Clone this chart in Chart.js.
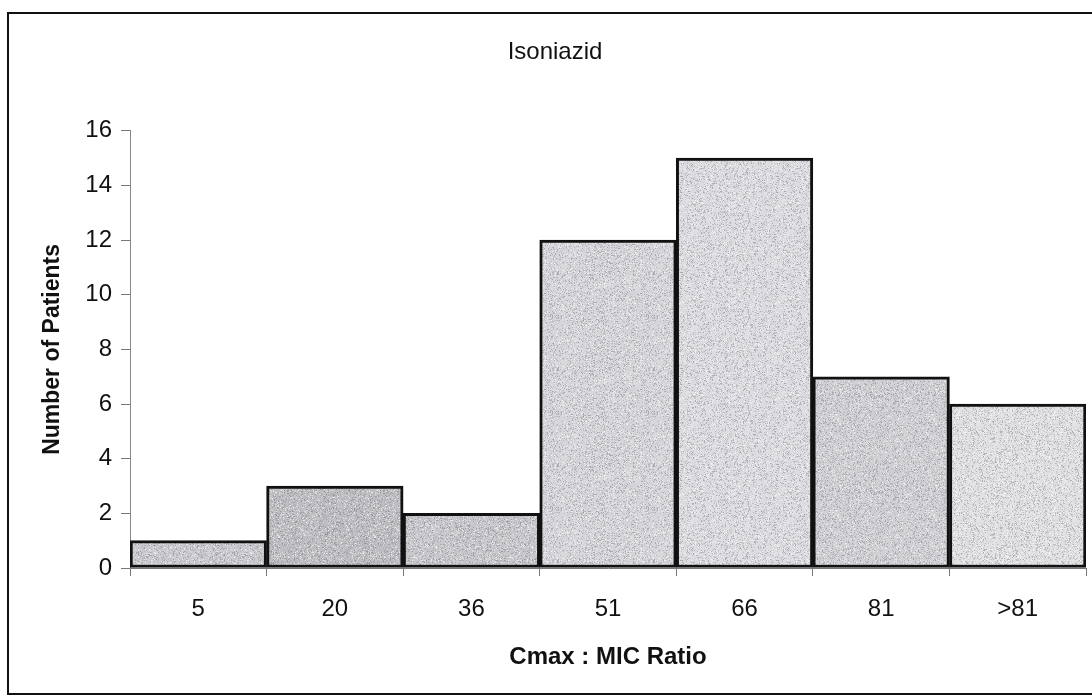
<!DOCTYPE html>
<html>
<head>
<meta charset="utf-8">
<script src="https://cdn.jsdelivr.net/npm/chart.js@4"></script>
<style>
  html, body { margin: 0; padding: 0; background: #fff; }
  #wrap { position: relative; width: 1092px; height: 697px; overflow: hidden; }
  #frame {
    position: absolute; left: 7px; top: 12px; width: 1100px; height: 683px;
    border: 2px solid #111; box-sizing: border-box; pointer-events: none;
  }
  canvas { position: absolute; left: 0; top: 0; }
</style>
</head>
<body>
<div id="wrap">
  <canvas id="c" width="1092" height="697"></canvas>
  <div id="frame"></div>
</div>
<script>
// Cmax : MIC ratio bins and patient counts
const ratioBins = ['5', '20', '36', '51', '66', '81', '>81'];
const patientCounts = [1, 3, 2, 12, 15, 7, 6];
const yTicks = [0, 2, 4, 6, 8, 10, 12, 14, 16];

// base gray of the stippled fill for each bar
const barShades = ['#cbcbcf', '#bfbfc3', '#c8c8cc', '#d6d6da', '#dcdce0', '#d0d0d4', '#e0e0e3'];

const FONT = "'Liberation Sans', Arial, sans-serif";

// speckled gray fill tile, built from a fixed hash so it is the same every time
function hash(i, j, k) {
  let h = (i * 374761393 + j * 668265263 + k * 2147483647) | 0;
  h = Math.imul(h ^ (h >>> 13), 1274126177);
  h ^= h >>> 16;
  return (h >>> 0) / 4294967295;
}
function speckle(base, seed) {
  const size = 96;
  const tile = document.createElement('canvas');
  tile.width = size; tile.height = size;
  const g = tile.getContext('2d');
  g.fillStyle = base;
  g.fillRect(0, 0, size, size);
  for (let y = 0; y < size; y++) {
    for (let x = 0; x < size; x++) {
      const r = hash(x, y, seed);
      if (r < 0.22) {
        g.fillStyle = 'rgba(60,60,70,' + (0.08 + 0.25 * hash(y, x, seed + 7)).toFixed(3) + ')';
        g.fillRect(x, y, 1, 1);
      } else if (r > 0.86) {
        g.fillStyle = 'rgba(255,255,255,' + (0.25 + 0.4 * hash(y, x, seed + 3)).toFixed(3) + ')';
        g.fillRect(x, y, 1, 1);
      }
    }
  }
  return document.getElementById('c').getContext('2d').createPattern(tile, 'repeat');
}
const barFills = barShades.map((c, i) => speckle(c, i + 1));

new Chart(document.getElementById('c'), {
  type: 'bar',
  data: {
    labels: ratioBins,
    datasets: [{
      data: patientCounts,
      backgroundColor: barFills,
      borderColor: '#111',
      borderWidth: 3,
      borderSkipped: false,
      barPercentage: 1.0,
      categoryPercentage: 1.0
    }]
  },
  options: {
    responsive: false,
    animation: false,
    layout: { padding: { top: 10, right: 6, left: 24, bottom: 0 } },
    plugins: {
      legend: { display: false },
      tooltip: { enabled: false },
      title: {
        display: true,
        text: 'Isoniazid',
        color: '#111',
        font: { family: FONT, size: 24, weight: 'normal', lineHeight: 1.2 },
        padding: { top: 28, bottom: 64 }
      }
    },
    scales: {
      x: {
        grid: {
          display: true, drawOnChartArea: false, drawTicks: true,
          tickLength: 8, color: '#777', offset: true
        },
        border: { display: true, color: '#777', width: 1 },
        ticks: {
          color: '#111', padding: 19,
          font: { family: FONT, size: 24, lineHeight: 1.2 }
        },
        title: {
          display: true, text: 'Cmax : MIC Ratio', color: '#111',
          font: { family: FONT, size: 24, weight: 'bold', lineHeight: 1.2 },
          padding: { top: 0, bottom: 25 }
        },
        afterFit: (s) => { s.height = 697 - 568; }
      },
      y: {
        min: 0, max: 16,
        afterBuildTicks: (s) => { s.ticks = yTicks.map(v => ({ value: v })); },
        grid: {
          display: true, drawOnChartArea: false, drawTicks: true,
          tickLength: 9, color: '#777'
        },
        border: { display: true, color: '#888', width: 1 },
        ticks: {
          color: '#111', padding: 9,
          font: { family: FONT, size: 24, lineHeight: 1.2 }
        },
        title: {
          display: true, text: 'Number of Patients', color: '#111',
          font: { family: FONT, size: 23, weight: 'bold', lineHeight: 1.2 },
          padding: { top: 15, bottom: 0 }
        },
        afterFit: (s) => { s.width = 106; }
      }
    }
  }
});
</script>
</body>
</html>
